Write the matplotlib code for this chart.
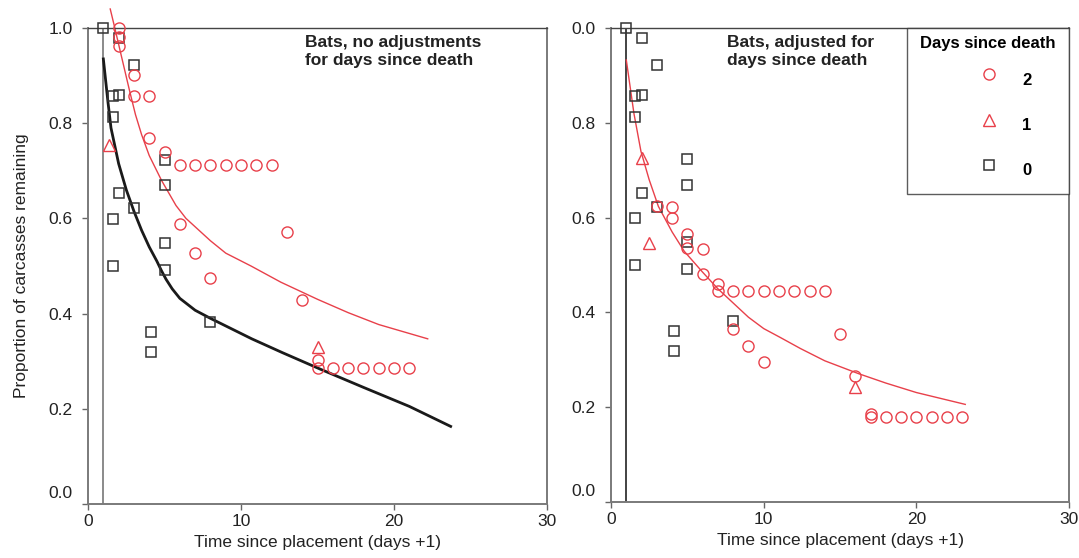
import matplotlib
matplotlib.use('Agg')
import matplotlib.pyplot as plt
from matplotlib.lines import Line2D
from matplotlib.legend_handler import HandlerLine2D
from matplotlib.transforms import ScaledTranslation

plt.rcParams['font.family'] = ['Liberation Sans', 'DejaVu Sans']

RED = '#e8404a'
DARK = '#333333'

# carcasses with 0 days since death (same in both panels)
sq_x = [1, 2, 1.6, 2, 1.6, 3, 2, 3, 1.6, 1.6, 4.1, 4.1, 5, 5, 5, 5, 8]
sq_y = [1.0, 0.979, 0.857, 0.859, 0.813, 0.922, 0.653, 0.622, 0.599, 0.5,
        0.361, 0.319, 0.723, 0.670, 0.548, 0.492, 0.382]

# left panel: no adjustment
l_circ_x = [2, 2, 2, 3, 3, 4, 4, 5, 6, 7, 8, 9, 10, 11, 12, 6, 7, 8, 13, 14,
            15, 15, 16, 17, 18, 19, 20, 21]
l_circ_y = [1.0, 0.981, 0.962, 0.901, 0.857, 0.857, 0.769, 0.739,
            0.712, 0.712, 0.712, 0.712, 0.712, 0.712, 0.712,
            0.588, 0.527, 0.475, 0.571, 0.429, 0.303, 0.286,
            0.286, 0.286, 0.286, 0.286, 0.286, 0.286]
l_tri_x = [1.4, 15]
l_tri_y = [0.754, 0.33]

l_fit0_x = [1.0, 1.3, 1.5, 2.0, 2.5, 3.0, 3.5, 4.0, 4.5, 4.8, 5.1, 5.5, 6.0,
            7.0, 8.0, 10.7, 12.7, 15.2, 18.0, 21.0, 23.7]
l_fit0_y = [0.935, 0.845, 0.79, 0.715, 0.66, 0.615, 0.575, 0.54, 0.51, 0.49,
            0.472, 0.452, 0.432, 0.407, 0.39, 0.347, 0.318, 0.283, 0.245,
            0.205, 0.163]
l_fit2_x = [1.45, 1.75, 2.15, 2.7, 3.1, 3.5, 4.0, 4.8, 5.75, 6.4, 8.0, 9.0,
            10.65, 12.6, 15.0, 17.0, 19.0, 22.2]
l_fit2_y = [1.04, 1.0, 0.945, 0.87, 0.818, 0.776, 0.732, 0.68, 0.627, 0.60,
            0.553, 0.527, 0.50, 0.466, 0.43, 0.402, 0.377, 0.347]

# right panel: adjusted for days since death
r_circ_x = [3, 4, 4, 5, 5, 6, 6, 7, 7, 8, 9, 10, 11, 12, 13, 14, 8, 9, 10,
            15, 16, 17, 17, 18, 19, 20, 21, 22, 23]
r_circ_y = [0.624, 0.622, 0.599, 0.565, 0.536, 0.534, 0.481, 0.46,
            0.445, 0.445, 0.445, 0.445, 0.445, 0.445, 0.445, 0.445,
            0.366, 0.33, 0.296, 0.355, 0.265, 0.186,
            0.179, 0.179, 0.179, 0.179, 0.179, 0.179, 0.179]
r_tri_x = [2, 2.5, 16]
r_tri_y = [0.727, 0.546, 0.242]

r_fit_x = [1.0, 1.5, 1.96, 2.5, 3.1, 4.0, 4.8, 6.0, 7.0, 8.0, 9.0, 10.0,
           11.1, 12.4, 14.0, 16.2, 18.0, 20.0, 23.2]
r_fit_y = [0.933, 0.82, 0.74, 0.68, 0.624, 0.57, 0.529, 0.485, 0.45, 0.42,
           0.39, 0.366, 0.347, 0.324, 0.298, 0.271, 0.251, 0.231, 0.206]

x_ticks = [0, 10, 20, 30]
y_ticks = [0.0, 0.2, 0.4, 0.6, 0.8, 1.0]
l_ylabels = ['0.0', '0.2', '0.4', '0.6', '0.8', '1.0']
r_ylabels = ['0.0', '0.2', '0.4', '0.6', '0.8', '0.0']

FS = 12.5


def style_axes(fig, ax, ylabels, vline_color):
    ax.set_xlim(0, 30)
    ax.set_ylim(0, 1.0)
    ax.set_xticks(x_ticks)
    ax.set_yticks(y_ticks)
    ax.set_yticklabels(ylabels)
    for s in ax.spines.values():
        s.set_color('#7a7a7a')
        s.set_linewidth(1.4)
    ax.spines['top'].set_color('#444444')
    ax.spines['top'].set_linewidth(1.0)
    ax.tick_params(direction='out', length=4, width=1, color='#666666',
                   labelsize=FS, labelcolor='#222222')
    ax.tick_params(axis='y', pad=7)
    ax.axvline(1, color=vline_color, lw=1.2, zorder=1)
    ax.set_xlabel('Time since placement (days +1)', fontsize=FS,
                  color='#222222', labelpad=4)
    # the bottom "0.0" label sits a little above its tick
    lab = ax.yaxis.get_major_ticks()[0].label1
    lab.set_transform(lab.get_transform() +
                      ScaledTranslation(0, 0.12, fig.dpi_scale_trans))


def scatter_all(ax, cx, cy, tx, ty):
    ax.plot(sq_x, sq_y, 's', ms=7.5, mfc='none', mec=DARK, mew=1.1,
            label='0', zorder=3, clip_on=False)
    ax.plot(cx, cy, 'o', ms=8, mfc='none', mec=RED, mew=1.0,
            label='2', zorder=4, clip_on=False)
    ax.plot(tx, ty, '^', ms=8, mfc='none', mec=RED, mew=1.0,
            label='1', zorder=4, clip_on=False)


fig = plt.figure(figsize=(10.79, 5.58), dpi=100)
ax1 = fig.add_axes([0.0816, 0.0968, 0.4254, 0.853])
ax2 = fig.add_axes([0.5663, 0.1004, 0.4245, 0.849])

# left panel
scatter_all(ax1, l_circ_x, l_circ_y, l_tri_x, l_tri_y)
ax1.plot(l_fit0_x, l_fit0_y, color='#1a1a1a', lw=2.0, zorder=2)
ax1.plot(l_fit2_x, l_fit2_y, color=RED, lw=1.0, zorder=2, clip_on=False)
style_axes(fig, ax1, l_ylabels, '#777777')
ax1.set_ylabel('Proportion of carcasses remaining', fontsize=FS,
               color='#222222', labelpad=14)
ax1.text(14.2, 0.985, 'Bats, no adjustments\nfor days since death',
         fontsize=FS, fontweight='bold', color='#222222',
         ha='left', va='top', linespacing=1.25)

# right panel
scatter_all(ax2, r_circ_x, r_circ_y, r_tri_x, r_tri_y)
ax2.plot(r_fit_x, r_fit_y, color=RED, lw=1.0, zorder=2)
style_axes(fig, ax2, r_ylabels, '#222222')
ax2.text(7.6, 0.985, 'Bats, adjusted for\ndays since death',
         fontsize=FS, fontweight='bold', color='#222222',
         ha='left', va='top', linespacing=1.25)

h, l = ax2.get_legend_handles_labels()
order = [1, 2, 0]
leg = ax2.legend([h[i] for i in order], [l[i] for i in order],
                 title='Days since death', loc='upper right',
                 bbox_to_anchor=(0.646, 0.0, 0.354, 1.0), mode='expand',
                 borderaxespad=0, frameon=True, fancybox=False,
                 edgecolor='#333333', fontsize=12,
                 title_fontproperties={'weight': 'bold', 'size': 12},
                 prop={'weight': 'bold', 'size': 12},
                 handler_map={Line2D: HandlerLine2D(xpad=2.9)},
                 handlelength=6.0, handletextpad=0.45, handleheight=2.57,
                 labelspacing=0.79, alignment='center', borderpad=0.45)
leg.get_frame().set_linewidth(1.0)

fig.savefig('out.png', dpi=100)
